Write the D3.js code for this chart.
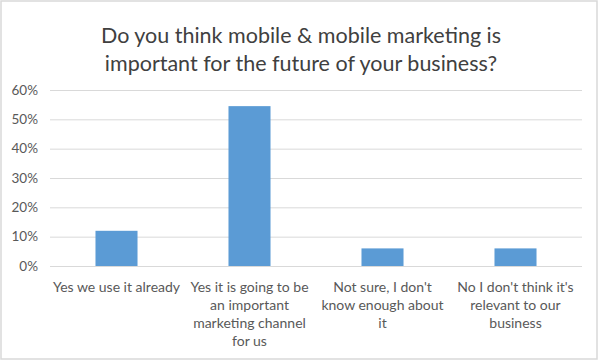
<!DOCTYPE html>
<html><head><meta charset="utf-8">
<script src="https://cdn.jsdelivr.net/npm/d3@7"></script>
<style>body{margin:0;background:#fff}svg{display:block}</style>
</head><body>
<svg id="c" width="600" height="361"></svg>
<script>
const titleLines = ["Do you think mobile & mobile marketing is", "important for the future of your business?"];
const categories = [
  "Yes we use it already",
  "Yes it is going to be\nan important\nmarketing channel\nfor us",
  "Not sure, I don't\nknow enough about\nit",
  "No I don't think it's\nrelevant to our\nbusiness"
];
const values = [0.12, 0.545, 0.06, 0.06];
const yTicks = [0, 0.1, 0.2, 0.3, 0.4, 0.5, 0.6];

const svg = d3.select("#c");
const font = "Lato, 'Open Sans', sans-serif";
svg.append("rect").attr("x", 1).attr("y", 1).attr("width", 596).attr("height", 358)
  .attr("fill", "#fff").attr("stroke", "#d9d9d9").attr("stroke-width", 1.5);

const x = d3.scaleBand().domain(categories).range([50, 582]).paddingInner(0.684).paddingOuter(0.342);
const y = d3.scaleLinear().domain([0, 0.6]).range([266, 90]);

svg.append("g").selectAll("text").data(titleLines).join("text")
  .attr("x", 301).attr("y", (d, i) => 35 + i * 28)
  .attr("text-anchor", "middle").attr("dominant-baseline", "central")
  .attr("font-family", font).attr("font-size", 21.5).attr("fill", "#404040").text(d => d);

const yAxis = svg.append("g").attr("transform", "translate(50,0)")
  .call(d3.axisLeft(y).tickValues(yTicks).tickFormat(d3.format(".0%")).tickSize(-532).tickPadding(12));
yAxis.select(".domain").remove();
yAxis.selectAll(".tick line").attr("stroke", "#d9d9d9").attr("stroke-width", 1);
yAxis.selectAll(".tick text").attr("font-family", font).attr("font-size", 13.5).attr("fill", "#595959");

svg.append("g").selectAll("rect").data(values).join("rect")
  .attr("x", (d, i) => x(categories[i])).attr("width", x.bandwidth())
  .attr("y", d => y(d)).attr("height", d => y(0) - y(d)).attr("fill", "#5b9bd5");

const xl = svg.append("g");
categories.forEach(c => {
  const t = xl.append("text").attr("text-anchor", "middle")
    .attr("font-family", font).attr("font-size", 14).attr("fill", "#595959");
  c.split("\n").forEach((line, j) => {
    t.append("tspan").attr("x", x(c) + x.bandwidth() / 2).attr("y", 286 + j * 18)
      .attr("dominant-baseline", "central").text(line);
  });
});
</script>
</body></html>
